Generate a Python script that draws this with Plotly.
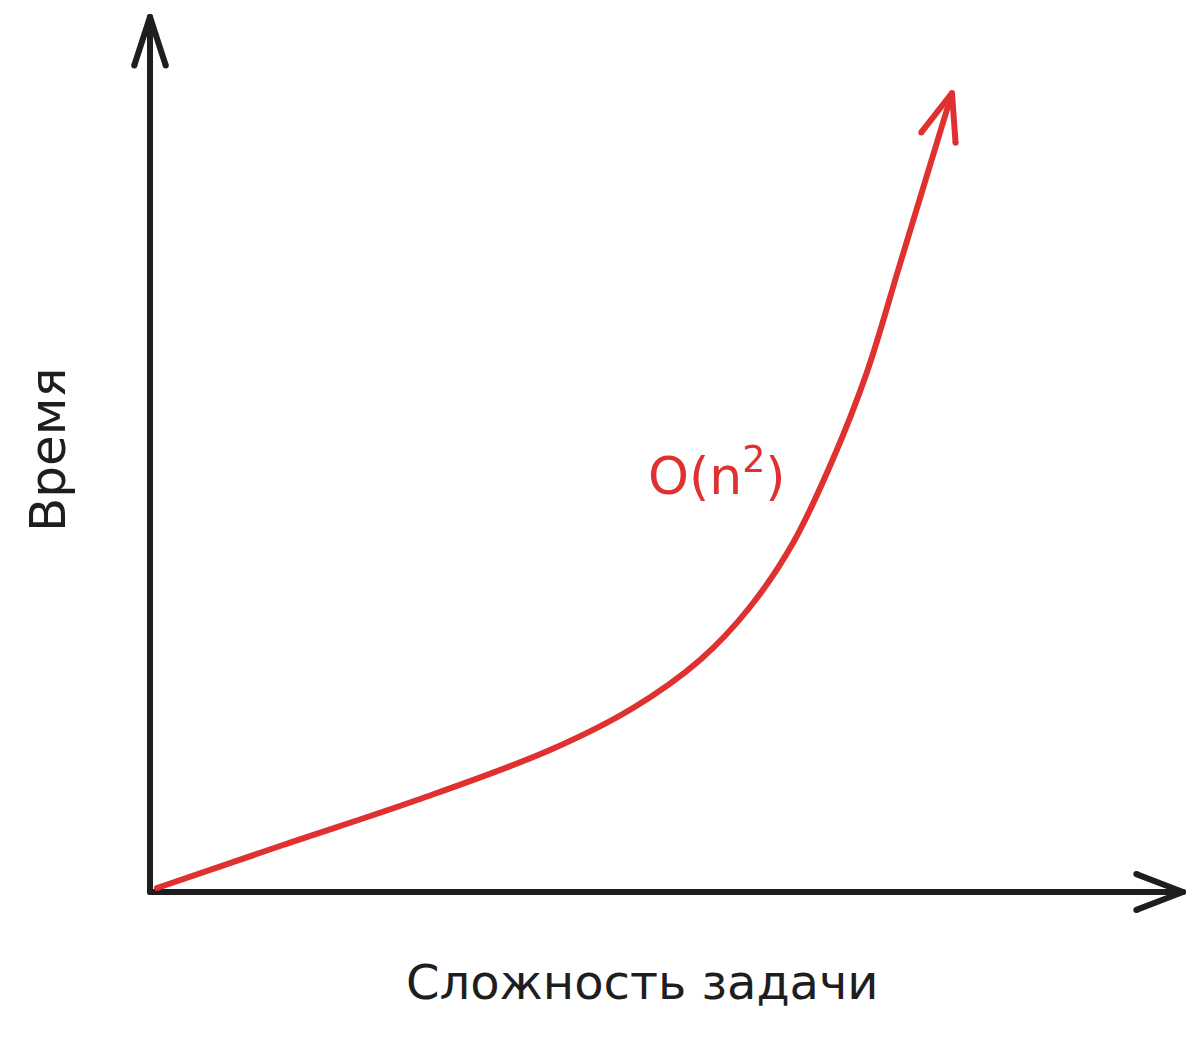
import numpy as np
import plotly.graph_objects as go

# Data (complexity vs time, arbitrary units)
complexity = [0.7, 13.3, 26.7, 40.0, 48.3, 55.0, 60.0, 64.3, 68.3, 71.7, 75.0, 80.2]
time_vals = [0.4, 4.7, 9.2, 14.2, 18.4, 23.2, 28.5, 34.9, 43.3, 52.0, 62.8, 79.9]
curve_label = "O(n<sup>2</sup>)"
x_title = "Сложность задачи"
y_title = "Время"
x_axis_len = 103.3
y_axis_len = 87.5

RED = "#e03131"
BLACK = "#1e1e1e"
LW = 6

fig = go.Figure()

def poly(xs, ys, color, mode="lines+markers"):
    fig.add_trace(go.Scatter(x=xs, y=ys, mode=mode,
                             line=dict(color=color, width=LW),
                             marker=dict(color=color, size=LW, line=dict(width=0)),
                             hoverinfo="skip"))

def wings(x0, y0, x1, y1, length=5.0, ang=20):
    d = np.array([x1 - x0, y1 - y0], float)
    d /= np.linalg.norm(d)
    res = []
    for a in (ang, -ang):
        r = np.radians(a)
        rot = np.array([[np.cos(r), -np.sin(r)], [np.sin(r), np.cos(r)]])
        res.append(np.array([x1, y1]) - length * rot @ d)
    return [res[0][0], x1, res[1][0]], [res[0][1], y1, res[1][1]]

# axes
poly([0, 0], [0, y_axis_len], BLACK)
poly([0, x_axis_len], [0, 0], BLACK)
ax, ay = wings(0, 0, 0, y_axis_len, length=5.1, ang=18)
poly(ax, ay, BLACK)
bx, by = wings(0, 0, x_axis_len, 0, length=5.0, ang=21)
poly(bx, by, BLACK)

# curve
fig.add_trace(go.Scatter(x=complexity, y=time_vals, mode="lines",
                         line=dict(color=RED, width=LW, shape="spline", smoothing=1.0),
                         hoverinfo="skip"))
poly([complexity[0]], [time_vals[0]], RED, mode="markers")
wx, wy = wings(complexity[-2], time_vals[-2], complexity[-1], time_vals[-1], length=5.0, ang=21)
poly(wx, wy, RED)

fig.add_annotation(x=56.7, y=42, xref="x", yref="y", text=curve_label, showarrow=False,
                   font=dict(family="DejaVu Sans", size=52, color=RED))
fig.add_annotation(x=49.2, y=-9.0, xref="x", yref="y", text=x_title, showarrow=False,
                   font=dict(family="DejaVu Sans", size=48, color=BLACK))
fig.add_annotation(x=-10.2, y=44.2, xref="x", yref="y", text=y_title, showarrow=False,
                   textangle=-90, font=dict(family="DejaVu Sans", size=50, color=BLACK))

fig.update_xaxes(range=[-14.2, 105.0], visible=False)
fig.update_yaxes(range=[-14.5, 88.4], visible=False)
fig.update_layout(width=1192, height=1029, showlegend=False,
                  margin=dict(l=0, r=0, t=0, b=0),
                  paper_bgcolor="white", plot_bgcolor="white")

fig.write_html("out.html")
